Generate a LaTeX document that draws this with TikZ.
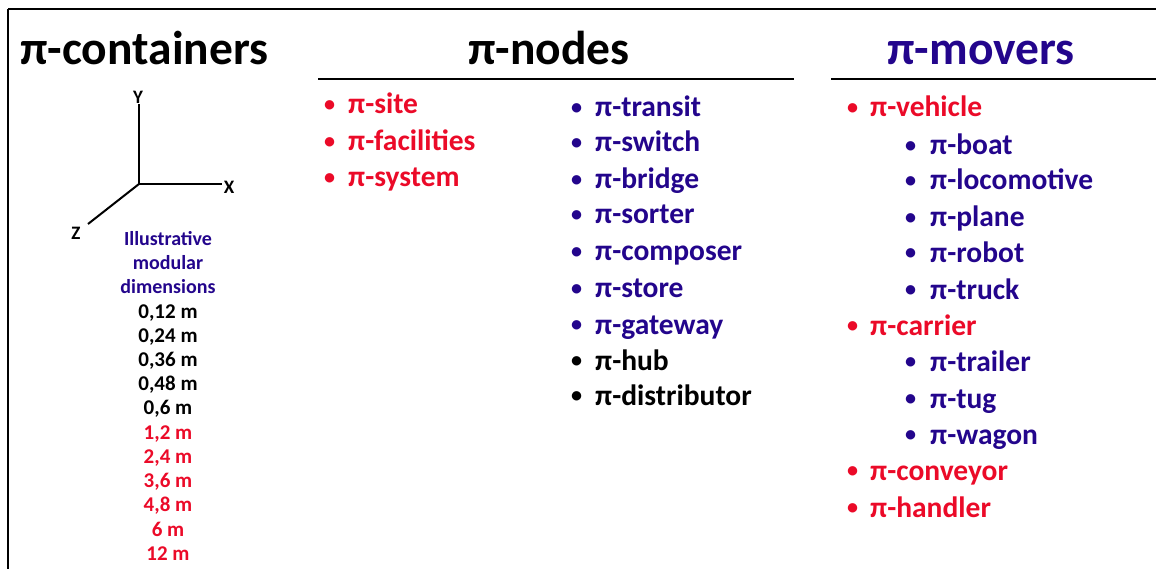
\documentclass[tikz,border=0pt]{standalone}
\usepackage{fontspec}
\setmainfont{Carlito}
\definecolor{pired}{RGB}{235,10,40}
\definecolor{piblue}{RGB}{35,5,140}
\newcommand{\bul}[1]{\makebox[#1][l]{\raisebox{0.1em}{\scalebox{0.75}{•}}}}
\begin{document}
\begin{tikzpicture}[x=1pt,y=-1pt,
  title/.style={font=\fontsize{47.5}{52}\selectfont\bfseries, anchor=base, inner sep=0pt},
  item/.style={font=\fontsize{29.5}{32}\selectfont\bfseries, anchor=base west, inner sep=0pt},
  dim/.style={font=\fontsize{21}{24}\selectfont\bfseries, anchor=base, inner sep=0pt},
  ill/.style={font=\fontsize{20}{22}\selectfont\bfseries, anchor=base, inner sep=0pt, text=piblue},
  axl/.style={font=\fontsize{19}{20}\selectfont\bfseries, inner sep=0pt},
  rule/.style={line width=2.5pt}]
\useasboundingbox (0,0) rectangle (1156,569);
% frame
\draw[line width=2.5pt] (8,9) -- (1156,9);
\draw[line width=2.5pt] (8,9) -- (8,569);
% titles
\node[title, anchor=base west] (tc) at (20,65) {π-containers};
\node[title] (tn) at (549,65) {π-nodes};
\node[title, text=piblue] (tm) at (981,65) {π-movers};
\draw[rule] (318,79) -- (794,79);
\draw[rule] (831,79) -- (1156,79);
% axes
\coordinate (o) at (139,184);
\coordinate (ye) at (139,104);
\coordinate (xe) at (222,184);
\coordinate (ze) at (88,224);
\draw[line width=2pt] (o) -- (ye);
\draw[line width=2pt] (o) -- (xe);
\draw[line width=2pt] (o) -- (ze);
\node[axl] (ly) at (138,97) {Y};
\node[axl] (lx) at (229,187) {X};
\node[axl] (lz) at (76,233) {Z};
% dimensions
\node[ill] (d1) at (168,246) {Illustrative};
\node[ill] (d2) at (168,270) {modular};
\node[ill] (d3) at (168,294) {dimensions};
\node[dim] (m1) at (168,318) {0,12 m};
\node[dim] (m2) at (168,342) {0,24 m};
\node[dim] (m3) at (168,366) {0,36 m};
\node[dim] (m4) at (168,390) {0,48 m};
\node[dim] (m5) at (168,414) {0,6 m};
\node[dim, text=pired] (m6) at (168,439) {1,2 m};
\node[dim, text=pired] (m7) at (168,463) {2,4 m};
\node[dim, text=pired] (m8) at (168,487) {3,6 m};
\node[dim, text=pired] (m9) at (168,511) {4,8 m};
\node[dim, text=pired] (m10) at (168,536) {6 m};
\node[dim, text=pired] (m11) at (168,560) {12 m};
% pi-nodes column 1
\node[item, text=pired] (n1) at (324,114) {\bul{24pt}π-site};
\node[item, text=pired] (n2) at (324,151) {\bul{24pt}π-facilities};
\node[item, text=pired] (n3) at (324,187) {\bul{24pt}π-system};
% pi-nodes column 2
\node[item, text=piblue] (c1) at (571,117) {\bul{24pt}π-transit};
\node[item, text=piblue] (c2) at (571,152) {\bul{24pt}π-switch};
\node[item, text=piblue] (c3) at (571,189) {\bul{24pt}π-bridge};
\node[item, text=piblue] (c4) at (571,224) {\bul{24pt}π-sorter};
\node[item, text=piblue] (c5) at (571,261) {\bul{24pt}π-composer};
\node[item, text=piblue] (c6) at (571,298) {\bul{24pt}π-store};
\node[item, text=piblue] (c7) at (571,334) {\bul{24pt}π-gateway};
\node[item] (c8) at (571,370) {\bul{24pt}π-hub};
\node[item] (c9) at (571,405) {\bul{24pt}π-distributor};
% pi-movers
\node[item, text=pired] (v1) at (847,117) {\bul{23pt}π-vehicle};
\node[item, text=piblue] (v2) at (905,155) {\bul{25pt}π-boat};
\node[item, text=piblue] (v3) at (905,190) {\bul{25pt}π-locomotive};
\node[item, text=piblue] (v4) at (905,227) {\bul{25pt}π-plane};
\node[item, text=piblue] (v5) at (905,262) {\bul{25pt}π-robot};
\node[item, text=piblue] (v6) at (905,299) {\bul{25pt}π-truck};
\node[item, text=pired] (v7) at (847,335) {\bul{23pt}π-carrier};
\node[item, text=piblue] (v8) at (905,371) {\bul{25pt}π-trailer};
\node[item, text=piblue] (v9) at (905,408) {\bul{25pt}π-tug};
\node[item, text=piblue] (v10) at (905,444) {\bul{25pt}π-wagon};
\node[item, text=pired] (v11) at (847,480) {\bul{23pt}π-conveyor};
\node[item, text=pired] (v12) at (847,517) {\bul{23pt}π-handler};
\end{tikzpicture}
\end{document}
